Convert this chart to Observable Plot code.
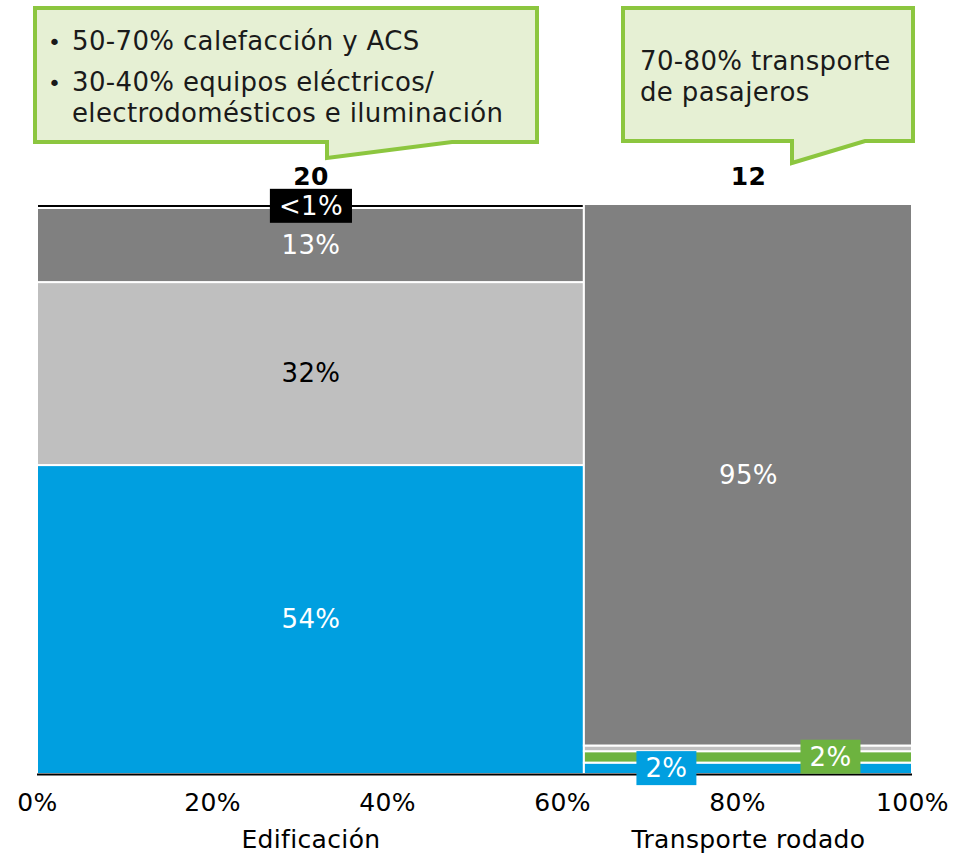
<!DOCTYPE html>
<html>
<head>
<meta charset="utf-8">
<script src="https://cdn.jsdelivr.net/npm/d3@7"></script>
<script src="https://cdn.jsdelivr.net/npm/@observablehq/plot@0.6"></script>
<style>
  html, body { margin: 0; padding: 0; background: #fff; }
  #chart { position: relative; width: 955px; height: 856px; }
</style>
</head>
<body>
<div id="chart"></div>
<script>
// Sector energy totals (column widths) and share of each end use within the sector (%)
const categories = ["Edificación", "Transporte rodado"];
const totals = [20, 12];
const seriesKeys = ["azul", "verde", "grisClaro", "grisOscuro", "negro"];
const edificacion = [54.2, 0, 32.1, 13.0, 0.7];
const transporte = [2, 2, 1, 95, 0];
const xTicks = [0, 20, 40, 60, 80, 100];

// Callout texts: one list of bullet items per sector
const calloutEdificacion = [
  ["50-70% calefacción y ACS"],
  ["30-40% equipos eléctricos/", "electrodomésticos e iluminación"]
];
const calloutTransporte = [["70-80% transporte", "de pasajeros"]];

// Styling
const FONT = "'DejaVu Sans', Verdana, sans-serif";
const fills = {azul: "#009FE0", verde: "#6DB33F", grisClaro: "#BFBFBF", grisOscuro: "#808080", negro: "#000000"};
const inks = {azul: "#ffffff", verde: "#ffffff", grisClaro: "#000000", grisOscuro: "#ffffff", negro: "#ffffff"};
// Where small segments get their boxed tag, as a fraction of the column width
const tagAlong = {azul: 0.25, verde: 0.75, negro: 0.5};

// Build the Marimekko geometry in data space
const grand = d3.sum(totals);
let cursor = 0;
const columns = categories.map((name, i) => {
  const w = totals[i] / grand * 100;
  const col = {name, total: totals[i], x1: cursor, x2: cursor + w,
               shares: i === 0 ? edificacion : transporte};
  col.mid = (col.x1 + col.x2) / 2;
  col.top = d3.sum(col.shares);
  cursor += w;
  return col;
});

const segments = [];
for (const col of columns) {
  let y = 0;
  col.shares.forEach((v, k) => {
    if (v > 0) {
      segments.push({cat: col.name, key: seriesKeys[k], value: v,
                     x1: col.x1, x2: col.x2, y1: y, y2: y + v});
    }
    y += v;
  });
}
const fmt = v => v < 1 ? "<1%" : Math.round(v) + "%";
const bigLabels = segments.filter(s => s.value >= 5);
const tags = segments.filter(s => s.value < 5 && tagAlong[s.key] != null);

const plot = Plot.plot({
  width: 955,
  height: 856,
  marginTop: 204,
  marginBottom: 82,
  marginLeft: 37,
  marginRight: 43,
  style: {fontFamily: FONT, background: "transparent", overflow: "visible", letterSpacing: "0.35px"},
  x: {domain: [0, 100]},
  y: {domain: [0, 100], axis: null},
  marks: [
    Plot.rect(segments, {
      x1: "x1", x2: "x2", y1: "y1", y2: "y2",
      fill: d => fills[d.key], stroke: "#ffffff", strokeWidth: 2
    }),
    Plot.ruleY([0], {stroke: "#000000", strokeWidth: 2}),
    Plot.axisX({
      ticks: xTicks, tickFormat: d => d + "%", tickSize: 0, tickPadding: 19,
      fontSize: 25, fill: "#000000", label: null
    }),
    Plot.text(bigLabels, {
      x: d => (d.x1 + d.x2) / 2, y: d => (d.y1 + d.y2) / 2,
      text: d => fmt(d.value), fill: d => inks[d.key], fontSize: 26
    }),
    Plot.text(tags, {
      x: d => d.x1 + tagAlong[d.key] * (d.x2 - d.x1), y: d => (d.y1 + d.y2) / 2,
      text: d => fmt(d.value), fill: d => inks[d.key], fontSize: 26,
      className: "tag",
      render(index, scales, values, dims, ctx, next) {
        const g = next(index, scales, values, dims, ctx);
        const nodes = g.querySelectorAll("text");
        index.forEach((i, k) => nodes[k] && nodes[k].setAttribute("data-bg", fills[tags[i].key]));
        return g;
      }
    }),
    Plot.text(columns, {
      x: "mid", y: "top", text: d => String(d.total), lineAnchor: "bottom",
      dy: -20, fontSize: 25, fontWeight: "bold", fill: "#000000"
    }),
    Plot.text(columns, {
      x: "mid", y: 0, text: "name", lineAnchor: "top",
      dy: 56, fontSize: 25, fill: "#000000"
    })
  ]
});

document.getElementById("chart").appendChild(plot);

// Boxed backgrounds behind the small-segment tags
plot.querySelectorAll("text[data-bg]").forEach(t => {
  const b = t.getBBox();
  const padX = 9, padY = 2;
  const r = document.createElementNS("http://www.w3.org/2000/svg", "rect");
  r.setAttribute("x", b.x - padX);
  r.setAttribute("y", b.y - padY);
  r.setAttribute("width", b.width + 2 * padX);
  r.setAttribute("height", b.height + 2 * padY);
  r.setAttribute("fill", t.getAttribute("data-bg"));
  if (t.getAttribute("transform")) r.setAttribute("transform", t.getAttribute("transform"));
  t.parentNode.insertBefore(r, t);
});

// Speech-bubble callouts above each column
const svg = d3.select(plot);
const note = svg.append("g").attr("font-family", FONT).attr("text-anchor", "start");
function callout(outline, items, textX, bulletX, firstBaseline, lineGap, itemGap) {
  note.append("path")
    .attr("d", d3.line()(outline) + "Z")
    .attr("fill", "#E6F0D4").attr("stroke", "#8CC63F").attr("stroke-width", 4)
    .attr("stroke-linejoin", "miter");
  let y = firstBaseline;
  items.forEach(lines => {
    if (bulletX != null) {
      note.append("text").attr("x", bulletX).attr("y", y).attr("font-size", 22)
        .attr("fill", "#1a1a1a").text("•");
    }
    lines.forEach((line, j) => {
      note.append("text").attr("x", textX).attr("y", y).attr("font-size", 26)
        .attr("fill", "#1a1a1a").text(line);
      y += j < lines.length - 1 ? lineGap : 0;
    });
    y += itemGap;
  });
}
callout([[35, 8], [537, 8], [537, 142], [452, 142], [327, 158], [327, 142], [35, 142]],
        calloutEdificacion, 72, 48, 50, 31, 41);
callout([[623, 8], [913, 8], [913, 141], [865, 141], [792, 163], [792, 141], [623, 141]],
        calloutTransporte, 640, null, 70, 31, 41);
</script>
</body>
</html>
